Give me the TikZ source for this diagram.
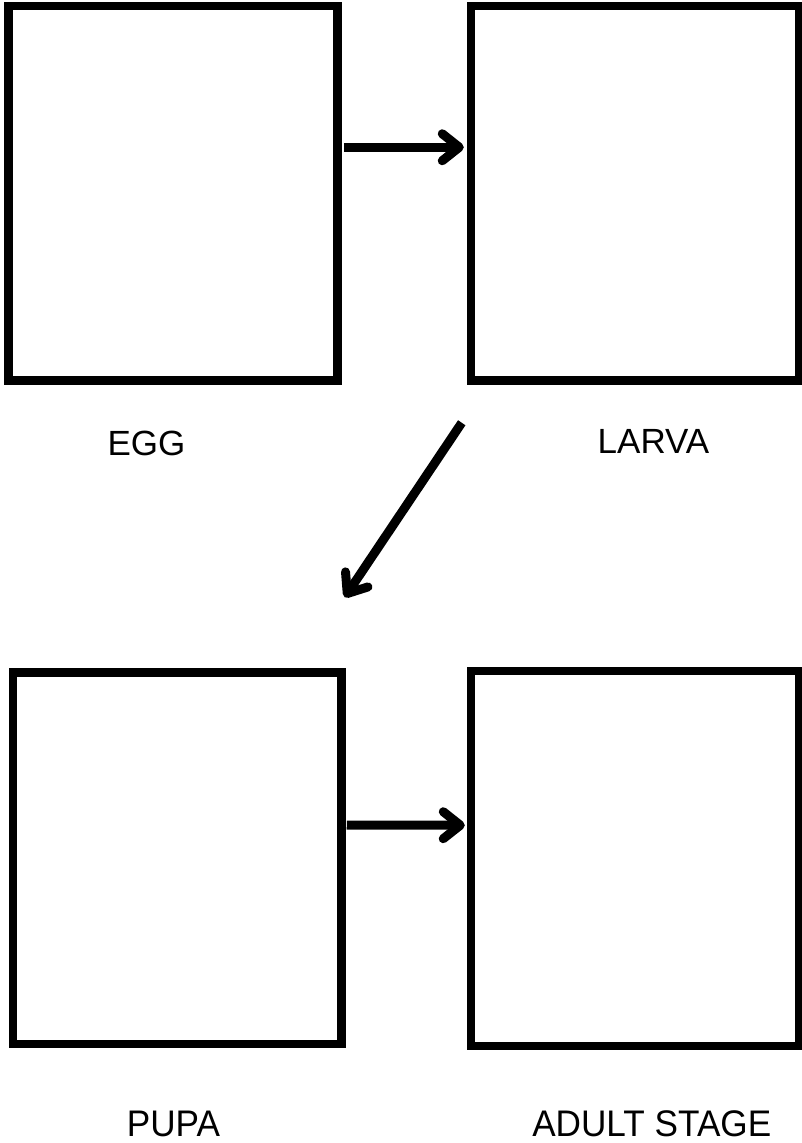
\documentclass[tikz,border=0pt]{standalone}
\usepackage{fontspec}
\setmainfont{Liberation Sans}
\newfontfamily\condfont[FakeStretch=0.95]{Liberation Sans}
\usetikzlibrary{arrows.meta}
\begin{document}
\begin{tikzpicture}[x=1pt,y=-1pt,
  stagebox/.style={draw=black, line width=8.5pt, inner sep=0pt, fill=white},
  flow/.style={line width=9pt, -{Straight Barb[length=17pt,width=27pt,round]}},
  toplabel/.style={font=\fontsize{35}{40}\selectfont, anchor=base, inner sep=0pt},
  botlabel/.style={font=\condfont\fontsize{37}{42}\selectfont, anchor=base, inner sep=0pt}]
\fill[white] (0,0) rectangle (802,1143);
\useasboundingbox (0,0) rectangle (802,1143);

\node[stagebox, minimum width=329.2pt, minimum height=374.5pt] (egg) at (172.9,193.25) {};
\node[stagebox, minimum width=328pt, minimum height=374.5pt] (larva) at (635,193.25) {};
\node[stagebox, minimum width=328.5pt, minimum height=371.5pt] (pupa) at (177.25,858.25) {};
\node[stagebox, minimum width=328pt, minimum height=375pt] (adult) at (635,858.5) {};

\node[toplabel] (eggl) at (146.5,455) {EGG};
\node[toplabel] (larval) at (653.5,453) {LARVA};
\node[botlabel] (pupal) at (173.4,1136.5) {PUPA};
\node[botlabel] (adultl) at (651.75,1136.5) {ADULT STAGE};

\draw[flow] ([shift={(2pt,46pt)}]egg.east) -- ([shift={(-3pt,46pt)}]larva.west);
\draw[flow] ([shift={(-5pt,-38pt)}]larva.south west) -- ([shift={(-1pt,71pt)}]pupa.north east);
\draw[flow] ([shift={(1pt,33.25pt)}]pupa.east) -- ([shift={(-2pt,33.25pt)}]adult.west);
\end{tikzpicture}
\end{document}
